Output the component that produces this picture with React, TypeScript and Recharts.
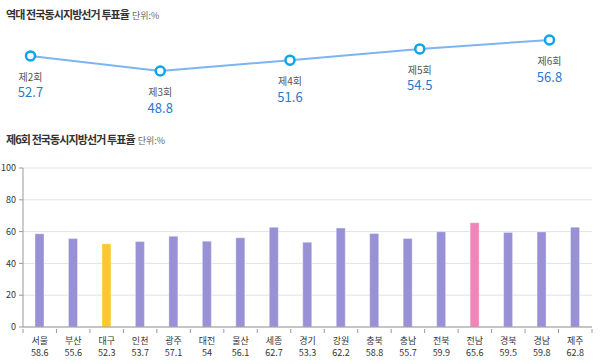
import { LineChart, Line, XAxis, YAxis, LabelList, BarChart, Bar, Cell, CartesianGrid } from 'recharts';

const rounds = ['제2회', '제3회', '제4회', '제5회', '제6회'];
const turnout = [52.7, 48.8, 51.6, 54.5, 56.8];

const regions = ['서울', '부산', '대구', '인천', '광주', '대전', '울산', '세종', '경기', '강원', '충북', '충남', '전북', '전남', '경북', '경남', '제주'];
const regionTurnout = [58.6, 55.6, 52.3, 53.7, 57.1, 54, 56.1, 62.7, 53.3, 62.2, 58.8, 55.7, 59.9, 65.6, 59.5, 59.8, 62.8];
const yTicks = [0, 20, 40, 60, 80, 100];

const FONT = "'Noto Sans CJK KR', 'Noto Sans', sans-serif";

const lineData = rounds.map((r, i) => ({ name: r, value: turnout[i] }));
const barData = regions.map((r, i) => ({ name: r, value: regionTurnout[i] }));

function barColor(name: string) {
  if (name === '대구') return '#fdc82f';
  if (name === '전남') return '#f285b8';
  return '#9891d6';
}

function RoundLabel({ x, y, index }: any) {
  return (
    <g>
      <text x={x} y={y + 20.5} textAnchor="middle" dominantBaseline="central" fontSize={10} fill="#555" fontFamily={FONT}>
        {rounds[index]}
      </text>
      <text x={x} y={y + 36} textAnchor="middle" dominantBaseline="central" fontSize={13} fill="#2a78cc" fontFamily={FONT}>
        {turnout[index]}
      </text>
    </g>
  );
}

function RegionTick({ x, y, payload, index, width, visibleTicksCount }: any) {
  const bw = width && visibleTicksCount ? width / visibleTicksCount : 569 / regions.length;
  return (
    <g>
      {index === 0 && <line x1={x - bw / 2} x2={x - bw / 2} y1={y - 6} y2={y - 2} stroke="#999" />}
      <line x1={x + bw / 2} x2={x + bw / 2} y1={y - 6} y2={y - 2} stroke="#999" />
      <text x={x} y={y + 5} textAnchor="middle" dominantBaseline="central" fontSize={9} fill="#333" fontFamily={FONT}>
        {payload.value}
      </text>
      <text x={x} y={y + 17} textAnchor="middle" dominantBaseline="central" fontSize={9} fill="#333" fontFamily={FONT}>
        {regionTurnout[index]}
      </text>
    </g>
  );
}

function Title({ top, text }: { top: number; text: string }) {
  return (
    <div style={{ position: 'absolute', left: 6, top, fontFamily: FONT, whiteSpace: 'nowrap', lineHeight: '14px' }}>
      <span style={{ fontSize: 11, fontWeight: 700, color: '#333', letterSpacing: -0.9 }}>{text}</span>
      <span style={{ fontSize: 9, color: '#666', marginLeft: 3 }}>단위:%</span>
    </div>
  );
}

export default function App() {
  return (
    <div style={{ position: 'absolute', left: 0, top: 0, width: 600, height: 364, background: '#fff', overflow: 'hidden' }}>
      <div style={{ position: 'absolute', left: 0, top: 0 }}>
        <LineChart width={600} height={130} data={lineData} margin={{ top: 27.6, right: 50.5, bottom: 24.9, left: 30.5 }}>
          <XAxis dataKey="name" hide scale="point" padding={{ left: 0, right: 0 }} />
          <YAxis hide domain={[40, 60]} />
          <Line
            dataKey="value"
            stroke="#7db4f2"
            strokeWidth={2}
            dot={{ r: 4.5, stroke: '#0aa5ea', strokeWidth: 2.5, fill: '#fff' }}
            isAnimationActive={false}
          >
            <LabelList dataKey="value" content={<RoundLabel />} />
          </Line>
        </LineChart>
      </div>
      <div style={{ position: 'absolute', left: 0, top: 150 }}>
        <BarChart width={600} height={214} data={barData} margin={{ top: 18, right: 8, bottom: 5, left: 0 }}>
          <CartesianGrid vertical={false} stroke="#e3e3e3" />
          <XAxis
            dataKey="name"
            interval={0}
            height={32}
            tickLine={false}
            axisLine={{ stroke: '#999' }}
            tick={<RegionTick />}
          />
          <YAxis
            width={23}
            domain={[0, 100]}
            ticks={yTicks}
            tickSize={4}
            tickMargin={3}
            tickLine={{ stroke: '#999' }}
            axisLine={{ stroke: '#999' }}
            tick={{ fontSize: 9, fill: '#333', fontFamily: FONT }}
          />
          <Bar dataKey="value" barSize={9} stroke="rgba(255,255,255,0.35)" strokeWidth={1} isAnimationActive={false}>
            {barData.map((d) => (
              <Cell key={d.name} fill={barColor(d.name)} />
            ))}
          </Bar>
        </BarChart>
      </div>
      <Title top={5} text="역대 전국동시지방선거 투표율" />
      <Title top={130} text="제6회 전국동시지방선거 투표율" />
    </div>
  );
}
